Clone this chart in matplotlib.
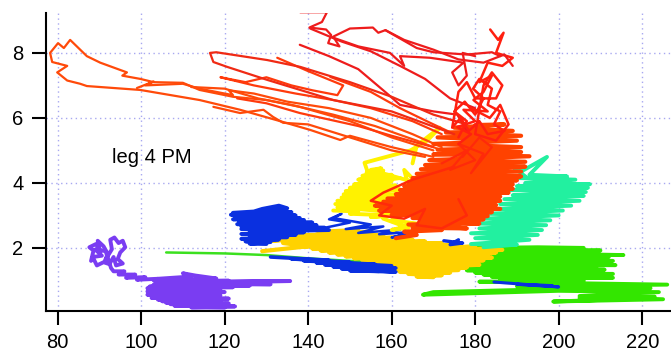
import matplotlib
matplotlib.use("Agg")
import matplotlib.pyplot as plt
import numpy as np

plt.rcParams['font.family'] = ['Liberation Sans', 'DejaVu Sans']

# ---------------- data (x, y) ----------------
x_ticks = [80, 100, 120, 140, 160, 180, 200, 220]
y_ticks = [2, 4, 6, 8]
label_text = "leg 4 PM"

purple_knot = [(88.0, 1.60), (88.6, 1.92), (87.6, 2.02), (89.2, 2.12), (90.2, 1.86), (89.6, 2.22),
               (91.0, 2.05), (92.0, 1.82), (91.4, 1.62), (93.0, 1.96), (92.6, 2.25), (93.6, 2.32),
               (94.6, 2.15), (95.6, 2.22), (96.2, 2.02), (95.0, 1.86), (94.4, 1.66), (95.6, 1.52),
               (94.0, 1.46), (93.4, 1.72), (92.4, 1.50), (91.0, 1.56), (89.4, 1.46), (88.4, 1.72),
               (90.6, 1.76), (89.0, 1.95), (91.5, 1.90), (92.8, 1.38), (93.4, 1.28), (96.0, 1.28),
               (94.6, 1.18), (98.6, 1.18), (96.4, 1.08), (101.0, 1.10), (99.0, 1.02), (104.0, 1.05)]
purple_blob = [(104.0, 1.05), (112.0, 1.12), (110.0, 1.22), (113.0, 1.15), (118.0, 1.06), (103.0, 1.00),
               (121.0, 0.99), (104.0, 0.95), (135.7, 0.98), (106.0, 0.93), (131.0, 0.88), (103.0, 0.87),
               (126.0, 0.84), (102.0, 0.81), (122.0, 0.79), (101.5, 0.76), (119.0, 0.74), (102.5, 0.71),
               (118.0, 0.69), (101.5, 0.66), (120.0, 0.64), (103.0, 0.61), (117.0, 0.59), (101.5, 0.56),
               (119.0, 0.54), (104.0, 0.51), (116.0, 0.49), (102.5, 0.46), (121.0, 0.44), (104.0, 0.41),
               (114.0, 0.39), (105.0, 0.36), (119.0, 0.34), (106.0, 0.31), (121.0, 0.29), (107.0, 0.27),
               (117.0, 0.25), (108.0, 0.22), (122.5, 0.20), (112.0, 0.17), (120.0, 0.16)]

green_line = [(106.0, 1.86), (120.0, 1.83), (130.0, 1.78), (140.0, 1.68), (150.0, 1.60),
              (160.0, 1.55), (175.0, 1.50)]
green_blob = [(180.0, 2.00), (195.0, 2.02), (206.0, 2.00), (179.0, 1.94), (210.0, 1.92), (178.0, 1.87),
              (215.5, 1.78), (177.0, 1.80), (212.0, 1.72), (177.0, 1.73), (209.0, 1.66), (176.0, 1.66),
              (213.0, 1.60), (176.0, 1.59), (211.0, 1.54), (176.0, 1.52), (213.6, 1.47), (177.0, 1.45),
              (209.0, 1.40), (177.0, 1.38), (211.0, 1.33), (178.0, 1.31), (210.0, 1.27), (180.0, 1.24),
              (213.0, 1.20), (182.0, 1.18), (208.0, 1.13), (184.0, 1.11), (213.0, 1.08), (186.0, 1.04),
              (206.0, 1.00), (181.0, 0.96), (226.0, 0.87), (190.0, 0.82), (222.0, 0.76), (195.0, 0.72),
              (170.0, 0.64), (167.5, 0.56), (200.0, 0.68), (224.0, 0.64), (205.0, 0.52), (225.0, 0.42),
              (198.7, 0.35), (215.0, 0.42), (205.0, 0.46), (223.0, 0.50)]

gold_blob = [(129.0, 1.90), (140.0, 2.05), (134.0, 2.15), (145.0, 2.30), (131.0, 2.22), (148.0, 2.42),
             (134.0, 2.38), (140.0, 2.62), (143.0, 2.50), (152.0, 2.55), (146.0, 2.45), (155.0, 2.50),
             (142.0, 2.35), (158.0, 2.40), (140.0, 2.28), (162.0, 2.32), (138.0, 2.20), (165.0, 2.25),
             (137.0, 2.12), (168.0, 2.20), (139.0, 2.05), (172.0, 2.15), (141.0, 1.98), (176.0, 2.10),
             (143.0, 1.92), (180.0, 2.04), (145.0, 1.86), (184.0, 1.98), (147.0, 1.80), (186.5, 1.94),
             (149.0, 1.74), (185.0, 1.86), (151.0, 1.68), (183.0, 1.78), (153.0, 1.62), (184.0, 1.70),
             (155.0, 1.56), (182.0, 1.62), (157.0, 1.50), (180.0, 1.55), (159.0, 1.44), (181.0, 1.48),
             (160.0, 1.38), (178.0, 1.40), (161.0, 1.32), (176.0, 1.32), (162.0, 1.26), (174.0, 1.24),
             (164.0, 1.20), (172.0, 1.16), (166.0, 1.12), (170.0, 1.10)]

blue_lobe = [(122.0, 3.08), (127.0, 3.12), (129.0, 3.20), (131.0, 3.25), (133.0, 3.30), (135.0, 3.22),
             (128.0, 3.12), (136.0, 3.10), (121.5, 3.02), (137.0, 3.00), (123.0, 2.95), (138.0, 2.92),
             (122.0, 2.88), (139.0, 2.86), (123.5, 2.80), (141.0, 2.78), (123.0, 2.73), (142.0, 2.70),
             (124.0, 2.66), (144.0, 2.62), (124.0, 2.58), (145.0, 2.55), (126.0, 2.50), (139.0, 2.48),
             (124.0, 2.43), (137.0, 2.40), (126.0, 2.36), (135.0, 2.33), (124.0, 2.28), (133.0, 2.26),
             (125.0, 2.20), (131.0, 2.18), (126.0, 2.13), (130.0, 2.12)]
blue_bits = [(144.0, 2.62), (150.0, 2.78), (145.0, 2.88), (148.0, 3.05), (146.0, 2.92), (155.0, 2.72),
             (149.0, 2.58), (158.0, 2.66), (152.0, 2.46), (162.0, 2.56), (157.0, 2.42), (166.0, 2.50),
             (160.0, 2.32), (164.0, 2.45)]
blue_low = [(131.0, 1.72), (145.0, 1.62), (136.0, 1.66), (150.0, 1.56), (139.0, 1.60), (156.0, 1.50),
            (142.0, 1.54), (160.0, 1.45), (144.0, 1.48), (161.0, 1.38), (146.0, 1.42), (160.0, 1.32),
            (148.0, 1.36), (161.0, 1.26), (150.0, 1.30), (157.0, 1.28)]
blue_mid = [(172.5, 2.22), (177.0, 2.15), (174.0, 2.10), (176.0, 2.25)]
blue_right = [(184.5, 0.95), (200.0, 0.80), (190.0, 0.88), (198.5, 0.84), (193.0, 0.85)]

yellow_blob = [(146.0, 3.15), (152.0, 3.12), (150.0, 3.05), (160.0, 3.00), (155.0, 2.95), (165.0, 3.05),
               (147.0, 3.25), (164.0, 3.20), (146.5, 3.35), (163.0, 3.35), (147.0, 3.45), (162.0, 3.50),
               (148.0, 3.55), (163.0, 3.65), (148.5, 3.65), (162.0, 3.80), (149.0, 3.75), (161.0, 3.92),
               (150.0, 3.85), (160.0, 4.05), (151.0, 3.95), (162.0, 4.15), (152.0, 4.10), (160.0, 4.25),
               (153.0, 4.22), (158.0, 4.38), (154.0, 4.32), (157.5, 4.45), (155.0, 4.40), (166.0, 4.00),
               (163.0, 4.40), (165.0, 3.40), (160.0, 2.85), (166.0, 2.75), (160.0, 2.55), (164.0, 2.62),
               (158.0, 2.90), (153.5, 4.62), (164.5, 5.00), (168.5, 5.30), (171.5, 5.70), (166.0, 5.15),
               (165.0, 4.60)]

seagreen_blob = [(182.0, 2.02), (190.0, 2.10), (179.0, 2.12), (193.0, 2.25), (180.0, 2.30), (195.0, 2.40),
                 (179.0, 2.45), (196.0, 2.55), (181.0, 2.60), (197.0, 2.70), (180.0, 2.75), (198.0, 2.85),
                 (182.0, 2.90), (200.0, 3.00), (183.0, 3.05), (201.0, 3.15), (185.0, 3.20), (203.0, 3.30),
                 (186.0, 3.35), (205.0, 3.45), (187.0, 3.50), (206.0, 3.60), (189.0, 3.62), (206.5, 3.72),
                 (188.0, 3.78), (207.0, 3.85), (190.0, 3.90), (207.5, 3.96), (192.0, 4.00), (204.0, 4.10),
                 (190.0, 4.15), (202.0, 4.20), (193.0, 4.25), (197.2, 4.80), (191.0, 4.35), (189.0, 4.50),
                 (192.0, 4.20)]
seagreen_bits = [(179.0, 4.00), (184.0, 3.85), (181.0, 3.75), (186.0, 3.70)]

orange_loop = [(170.0, 4.80), (160.0, 5.10), (150.0, 5.45), (147.7, 5.32), (140.5, 5.63), (133.3, 5.90),
               (123.7, 6.25), (114.0, 6.55), (99.8, 6.86), (87.0, 6.98), (85.4, 7.05), (82.3, 7.15),
               (79.9, 7.40), (82.3, 7.60), (78.7, 7.72), (78.2, 8.00), (80.1, 8.30), (81.5, 8.15),
               (83.0, 8.40), (85.4, 8.10), (87.0, 7.90), (90.2, 7.70), (96.6, 7.40), (95.5, 7.30),
               (99.8, 7.20), (103.0, 7.10), (110.0, 7.08), (114.0, 6.86), (122.0, 6.65), (130.0, 6.55),
               (138.0, 6.34), (150.0, 5.90), (160.0, 5.40), (170.0, 5.00)]
orange_line2 = [(99.0, 6.92), (103.0, 7.12), (101.0, 7.00), (110.0, 7.05), (114.0, 6.90), (122.0, 6.70),
                (121.0, 6.85), (127.0, 6.75), (135.0, 6.50), (145.0, 6.30), (155.0, 6.00), (165.0, 5.50),
                (172.0, 5.10)]
orange_line3 = [(117.3, 6.34), (123.7, 6.15), (129.3, 6.25), (131.6, 6.03), (134.0, 5.85), (140.0, 5.80),
                (150.0, 5.40), (160.0, 5.00), (168.0, 4.80)]
orange_line4 = [(132.6, 7.85), (139.8, 7.45), (148.4, 7.00), (147.0, 6.70), (141.0, 6.85), (136.0, 7.00),
                (130.0, 7.25), (125.0, 7.10), (119.0, 7.25), (127.0, 7.00), (137.0, 6.75), (146.0, 6.55),
                (155.0, 6.30), (165.0, 5.90), (172.0, 5.50)]
orange_line5 = [(145.3, 7.26), (155.0, 6.80), (162.0, 6.30), (169.2, 5.85), (175.0, 5.50)]
orange_line6 = [(112.0, 6.95), (120.0, 6.90), (128.0, 6.60), (136.0, 6.40), (146.0, 6.10), (156.0, 5.75),
                (166.0, 5.30), (174.0, 4.90)]
orange_line7 = [(123.0, 6.60), (130.0, 6.45), (138.0, 6.15), (145.0, 5.95), (152.0, 5.75), (160.0, 5.45),
                (170.0, 5.10)]
orange_blob = [(161.0, 2.30), (166.0, 2.40), (163.0, 2.50), (172.0, 2.55), (165.0, 2.62), (178.0, 2.60),
               (164.0, 2.72), (181.0, 2.75), (167.0, 2.82), (182.0, 2.88), (165.0, 2.92), (183.0, 2.98),
               (160.0, 3.02), (184.0, 3.10), (157.0, 3.15), (186.0, 3.20), (156.0, 3.30), (185.0, 3.32),
               (158.0, 3.42), (186.0, 3.45), (159.0, 3.52), (186.0, 3.58), (161.0, 3.65), (188.0, 3.70),
               (162.0, 3.78), (189.0, 3.82), (163.0, 3.90), (189.0, 3.95), (164.0, 4.02), (190.0, 4.08),
               (165.0, 4.15), (191.0, 4.20), (166.0, 4.28), (191.0, 4.35), (167.0, 4.42), (192.0, 4.50),
               (168.0, 4.55), (192.0, 4.65), (169.0, 4.70), (193.0, 4.82), (170.0, 4.88), (191.0, 4.95),
               (171.0, 5.02), (191.0, 5.10), (170.0, 5.20), (190.0, 5.30), (171.0, 5.40), (191.0, 5.45),
               (173.0, 5.55), (189.0, 5.60), (175.0, 5.70), (187.0, 5.80), (180.0, 5.78)]

red_top = [(138.1, 9.25), (144.5, 9.25), (143.3, 8.95), (140.3, 8.78), (144.3, 8.72), (145.5, 8.55),
           (144.8, 8.30), (147.5, 8.20), (146.0, 8.50), (150.0, 8.75), (155.5, 8.78), (156.8, 8.62),
           (158.5, 8.70), (166.0, 8.15), (170.0, 8.02), (178.0, 7.95), (184.0, 8.02), (186.0, 7.90)]
red_line2 = [(138.0, 8.25), (145.0, 7.90), (152.0, 7.50), (158.9, 6.75), (162.0, 6.40), (170.0, 6.20),
             (175.7, 6.10), (178.0, 5.60)]
red_loop = [(175.0, 5.50), (160.0, 6.20), (146.0, 6.55), (138.1, 6.86), (130.2, 7.17), (120.6, 7.57),
            (117.3, 7.72), (116.5, 8.00), (118.0, 8.02), (130.2, 7.78), (138.1, 7.57), (150.0, 7.10),
            (160.0, 6.65), (170.0, 6.10), (178.0, 5.80)]
red_column = [(183.6, 8.72), (185.5, 8.40), (186.8, 8.62), (185.0, 8.00), (189.0, 7.85), (186.5, 7.60),
              (183.0, 7.70), (181.0, 7.10), (184.0, 7.30), (182.0, 6.80), (179.6, 6.55), (183.0, 6.20),
              (177.2, 6.25), (180.0, 5.90), (175.7, 5.72), (179.0, 5.50), (176.0, 5.20)]
red_line5 = [(145.3, 8.50), (152.0, 8.20), (159.6, 8.00), (163.0, 7.60), (162.0, 7.90), (169.2, 7.85),
             (177.2, 7.70), (174.5, 7.40), (176.0, 7.00), (178.0, 7.30), (177.0, 8.00), (180.0, 7.90)]
red_line6 = [(140.5, 8.75), (148.0, 8.35), (155.0, 8.05), (162.0, 7.60), (168.0, 7.20), (174.0, 6.60),
             (180.0, 6.30)]
red_line7 = [(158.5, 8.70), (163.0, 8.40), (170.0, 8.10), (176.0, 7.80), (182.0, 7.70), (187.0, 7.95),
             (189.0, 7.60)]
red_tangle = [(176.0, 5.40), (178.0, 5.90), (175.0, 6.20), (177.5, 6.50), (180.0, 6.10), (182.0, 6.60),
              (179.5, 6.90), (181.0, 7.20), (184.0, 6.90), (183.0, 6.40), (186.0, 6.20), (184.5, 5.80),
              (187.0, 5.60), (183.0, 5.50), (181.0, 5.90), (178.5, 5.60), (176.5, 6.00), (174.5, 5.70),
              (176.0, 6.80), (178.0, 7.10), (180.0, 6.60), (185.0, 6.60), (186.5, 7.00), (184.0, 7.40),
              (182.0, 7.00), (180.0, 5.50), (185.0, 5.30), (188.0, 5.80), (186.0, 6.40), (183.5, 6.00),
              (179.0, 6.30)]
red_inner = [(172.0, 4.60), (178.0, 5.00), (174.0, 4.40), (180.0, 4.70), (176.0, 5.20), (182.0, 4.90),
             (179.0, 4.30), (184.0, 5.10), (181.0, 5.40), (177.0, 4.80)]
red_lower = [(175.0, 4.50), (165.0, 4.10), (158.0, 3.70), (155.0, 3.45), (160.0, 3.30), (157.0, 3.00),
             (163.0, 2.90), (168.0, 3.20), (166.0, 2.70), (172.0, 2.60), (178.0, 3.00), (176.0, 3.50)]

# ---------------- drawing ----------------
fig = plt.figure(figsize=(6.71, 3.59), dpi=100)
ax = fig.add_axes([0.068, 0.134, 0.932, 0.830])


def draw(track, color, lw, z):
    arr = np.asarray(track, dtype=float)
    ax.plot(arr[:, 0], arr[:, 1], color=color, lw=lw, zorder=z,
            solid_joinstyle='round', solid_capstyle='round')


PURPLE = '#7A3DF2'
BLUE = '#0A30E0'
GOLD = '#FFD200'
YELLOW = '#FFF200'
GREEN = '#33E600'
SEAGREEN = '#22F0A0'
ORANGE = '#FF4A0A'
ORANGE2 = '#FF3A0C'
RED = '#EE1C1C'
RED2 = '#FF2A0A'

draw(purple_knot, PURPLE, 2.8, 3)
draw(purple_blob, PURPLE, 2.8, 3)
draw(green_line, '#3BE01E', 1.8, 3)
draw(green_blob, GREEN, 2.8, 3)
draw(gold_blob, GOLD, 3.0, 4)
draw(blue_lobe, BLUE, 2.8, 5)
draw(blue_bits, BLUE, 1.8, 5)
draw(blue_low, BLUE, 2.6, 5)
draw(blue_mid, BLUE, 2.4, 5)
draw(blue_right, BLUE, 2.2, 5)
draw(yellow_blob, YELLOW, 2.8, 6)
draw(seagreen_blob, SEAGREEN, 2.8, 6)
draw(seagreen_bits, SEAGREEN, 2.0, 6)
draw(orange_loop, ORANGE, 1.6, 7)
draw(orange_line2, ORANGE, 1.6, 7)
draw(orange_line3, ORANGE, 1.6, 7)
draw(orange_line4, ORANGE2, 1.6, 7)
draw(orange_line5, ORANGE2, 1.6, 7)
draw(orange_line6, ORANGE, 1.6, 7)
draw(orange_line7, ORANGE2, 1.6, 7)
draw(orange_blob, '#FF4200', 3.0, 7)
draw(red_lower, RED2, 1.8, 8)
draw(red_inner, RED2, 1.6, 8)
draw(red_top, RED, 1.6, 8)
draw(red_line2, RED, 1.6, 8)
draw(red_loop, '#F02A14', 1.6, 8)
draw(red_column, '#FF2010', 1.8, 8)
draw(red_line5, RED, 1.6, 8)
draw(red_line6, RED, 1.6, 8)
draw(red_line7, RED, 1.6, 8)
draw(red_tangle, '#FF2010', 1.8, 8)

ax.text(93.0, 4.77, label_text, fontsize=14.5, ha='left', va='center', color='black', zorder=10)

ax.set_xlim(77.13, 226.9)
ax.set_ylim(0.062, 9.23)
ax.set_xticks(x_ticks)
ax.set_yticks(y_ticks)
ax.grid(True, color='#A8A8F0', linestyle=(0, (1, 2.5)), linewidth=1.0, zorder=0)
ax.set_axisbelow(True)
for s in ['top', 'right']:
    ax.spines[s].set_visible(False)
for s in ['left', 'bottom']:
    ax.spines[s].set_linewidth(1.5)
    ax.spines[s].set_color('black')
ax.tick_params(direction='out', length=10, width=1.5, labelsize=14.5, pad=6, colors='black')

fig.savefig('out.png', dpi=100)
